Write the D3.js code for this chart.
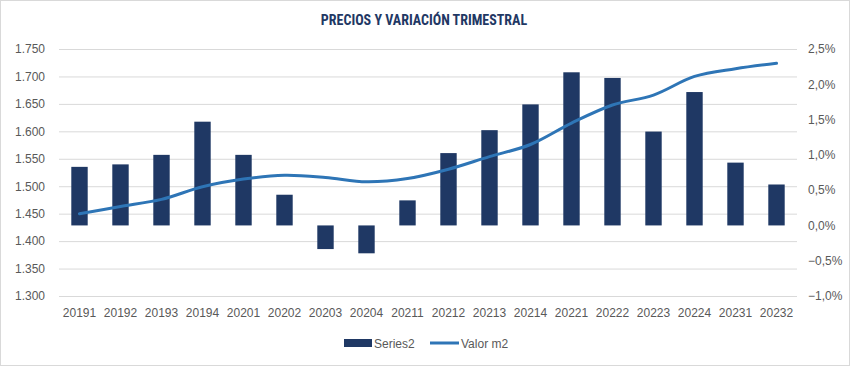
<!DOCTYPE html>
<html>
<head>
<meta charset="utf-8">
<script src="https://cdn.jsdelivr.net/npm/d3@7/dist/d3.min.js"></script>
<style>
  html, body { margin: 0; padding: 0; background: #fff; }
  svg { display: block; }
</style>
</head>
<body>
<svg id="chart" width="850" height="366"></svg>
<script>
const categories = ["20191","20192","20193","20194","20201","20202","20203","20204","20211","20212","20213","20214","20221","20222","20223","20224","20231","20232"];
const series2 = [0.83,0.865,1.0,1.47,1.0,0.435,-0.335,-0.395,0.355,1.025,1.35,1.715,2.17,2.09,1.33,1.89,0.89,0.58];
const valorM2 = [1.450,1.463,1.476,1.499,1.513,1.520,1.516,1.508,1.514,1.531,1.554,1.576,1.615,1.648,1.666,1.700,1.714,1.724];
const leftTicks = [1.30,1.35,1.40,1.45,1.50,1.55,1.60,1.65,1.70,1.75];
const rightTicks = [-1.0,-0.5,0.0,0.5,1.0,1.5,2.0,2.5];
const title = "PRECIOS Y VARIACIÓN TRIMESTRAL";
const seriesNames = ["Series2","Valor m2"];

const W = 850, H = 366;
const plot = {left: 59, right: 797, top: 49, bottom: 296};
const barColor = "#1f3864", lineColor = "#2e75b6", gridColor = "#d9d9d9", textColor = "#595959";
const font = "'Liberation Sans', Arial, sans-serif";

const svg = d3.select("#chart");

svg.append("rect").attr("x",0.5).attr("y",0.5).attr("width",W-1).attr("height",H-1)
  .attr("fill","#fff").attr("stroke","#d9d9d9");

const x = d3.scaleBand().domain(categories).range([plot.left, plot.right]).paddingInner(0.6).paddingOuter(0.3);
const yL = d3.scaleLinear().domain([1.30,1.75]).range([plot.bottom, plot.top]);
const yR = d3.scaleLinear().domain([-1.0,2.5]).range([plot.bottom, plot.top]);

const fmtL = v => d3.format(".3f")(v).replace(".", ".");
const fmtR = v => d3.format(".1f")(v).replace(".", ",") + "%";

// gridlines
const gAxisL = svg.append("g").attr("transform",`translate(${plot.left},0)`)
  .call(d3.axisLeft(yL).tickValues(leftTicks).tickSize(-(plot.right-plot.left)).tickPadding(14).tickFormat(fmtL));
gAxisL.select(".domain").remove();
gAxisL.selectAll(".tick line").attr("stroke",gridColor).attr("stroke-width",1);
gAxisL.selectAll(".tick text").attr("fill",textColor).style("font-family",font).style("font-size","12px");

const gAxisR = svg.append("g").attr("transform",`translate(${plot.right},0)`)
  .call(d3.axisRight(yR).tickValues(rightTicks).tickSize(0).tickPadding(11).tickFormat(fmtR));
gAxisR.select(".domain").remove();
gAxisR.selectAll(".tick text").attr("fill",textColor).style("font-family",font).style("font-size","12px");

// bars
svg.append("g").selectAll("rect").data(categories).join("rect")
  .attr("x", c => x(c))
  .attr("width", x.bandwidth())
  .attr("y", (c,i) => yR(Math.max(0, series2[i])))
  .attr("height", (c,i) => Math.abs(yR(series2[i]) - yR(0)))
  .attr("fill", barColor);

// line
const line = d3.line()
  .x((d,i) => x(categories[i]) + x.bandwidth()/2)
  .y(d => yL(d))
  .curve(d3.curveCatmullRom.alpha(0.5));
svg.append("path").datum(valorM2).attr("d", line)
  .attr("fill","none").attr("stroke",lineColor).attr("stroke-width",3).attr("stroke-linecap","round");

// x axis labels
const gAxisX = svg.append("g").attr("transform",`translate(0,${plot.bottom})`)
  .call(d3.axisBottom(x).tickSize(0).tickPadding(12));
gAxisX.select(".domain").remove();
gAxisX.selectAll(".tick text").attr("fill",textColor).style("font-family",font).style("font-size","12px");

// title
svg.append("text").attr("x",424).attr("y",25).attr("text-anchor","middle")
  .attr("fill",barColor).style("font-family","'Liberation Sans Narrow', 'Roboto Condensed', 'Liberation Sans', Arial, sans-serif")
  .style("font-weight","bold").style("font-size","14px").text(title);

// legend
const leg = svg.append("g").style("font-family",font).style("font-size","12px");
leg.append("rect").attr("x",344).attr("y",339).attr("width",28).attr("height",8).attr("fill",barColor);
leg.append("text").attr("x",374).attr("y",347.5).attr("fill",textColor).text(seriesNames[0]);
leg.append("line").attr("x1",430).attr("x2",459).attr("y1",343).attr("y2",343)
  .attr("stroke",lineColor).attr("stroke-width",3);
leg.append("text").attr("x",461).attr("y",347.5).attr("fill",textColor).text(seriesNames[1]);
</script>
</body>
</html>
